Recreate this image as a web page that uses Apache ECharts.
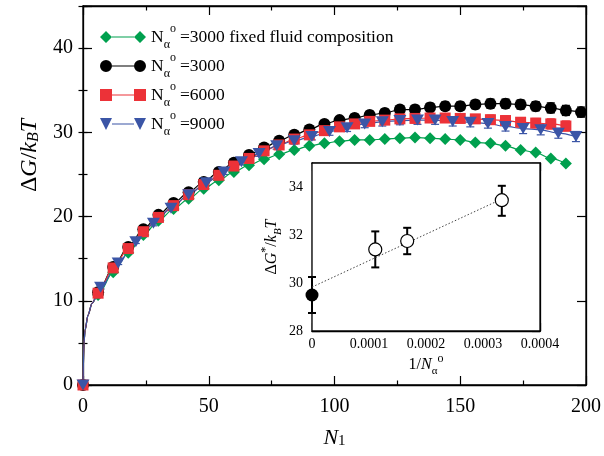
<!DOCTYPE html>
<html><head><meta charset="utf-8">
<script src="https://cdn.jsdelivr.net/npm/echarts@6/dist/echarts.min.js"></script>
<style>html,body{margin:0;padding:0;background:#fff}#c{width:604px;height:456px}</style>
</head><body><div id="c"></div>
<script>
// ---- main plot data ----
const xGreen = [0,6,12,18,24,30,36,42,48,54,60,66,72,78,84,90,96,102,108,114,120,126,132,138,144,150,156,162,168,174,180,186,192];
const yGreen = [0,10.7,13.4,15.7,17.8,19.5,20.9,22.1,23.3,24.3,25.3,26.1,26.8,27.4,27.9,28.4,28.7,28.95,29.1,29.1,29.2,29.3,29.4,29.3,29.2,29.1,28.8,28.7,28.4,27.9,27.6,26.9,26.3];
const xBlack = [0,6,12,18,24,30,36,42,48,54,60,66,72,78,84,90,96,102,108,114,120,126,132,138,144,150,156,162,168,174,180,186,192,198];
const yBlack = [0,11.0,14.0,16.4,18.5,20.2,21.6,22.9,24.1,25.3,26.4,27.3,28.2,29.0,29.7,30.35,31.0,31.45,31.7,32.05,32.3,32.7,32.7,32.95,33.1,33.1,33.3,33.4,33.4,33.3,33.1,32.9,32.6,32.4];
const errBlack = [0,0.2,0.2,0.2,0.2,0.3,0.3,0.3,0.3,0.3,0.3,0.3,0.35,0.35,0.4,0.4,0.4,0.4,0.45,0.45,0.45,0.45,0.5,0.5,0.5,0.5,0.5,0.55,0.55,0.55,0.55,0.6,0.6,0.6];
const xRed = [0,6,12,18,24,30,36,42,48,54,60,66,72,78,84,90,96,102,108,114,120,126,132,138,144,150,156,162,168,174,180,186,192];
const yRed = [0,10.9,13.9,16.2,18.2,19.9,21.3,22.6,23.8,24.9,26.0,26.9,27.8,28.5,29.2,29.7,30.2,30.65,31.0,31.3,31.45,31.6,31.65,31.7,31.7,31.65,31.6,31.5,31.4,31.2,31.1,31.0,30.75];
const errRed = [0,0.2,0.2,0.2,0.2,0.3,0.3,0.3,0.3,0.3,0.3,0.3,0.35,0.35,0.4,0.4,0.4,0.4,0.45,0.45,0.45,0.45,0.5,0.5,0.5,0.5,0.5,0.55,0.55,0.55,0.55,0.6,0.6];
const xBlue = [0,7,14,21,28,35,42,49,56,63,70,77,84,91,98,105,112,119,126,133,140,147,154,161,168,175,182,189,196];
const yBlue = [0,11.6,14.5,17.0,19.2,21.0,22.6,24.0,25.3,26.5,27.5,28.4,29.0,29.5,30.1,30.55,31.0,31.25,31.4,31.45,31.45,31.3,31.2,31.05,30.7,30.45,30.3,29.9,29.5];
const errBlue = [0,0.2,0.2,0.2,0.3,0.3,0.3,0.3,0.3,0.35,0.35,0.4,0.4,0.4,0.45,0.45,0.45,0.5,0.5,0.5,0.5,0.55,0.55,0.55,0.55,0.6,0.6,0.6,0.6];
// steep rise of the fitted curves near N1 = 0
const startX = [0.4, 0.8, 2, 3.6];
const startY = [5, 6.5, 8.3, 9.7];
const legendLabels = ['3000 fixed fluid composition', '3000', '6000', '9000'];
const xTicks = [0, 50, 100, 150, 200];
const yTicks = [0, 10, 20, 30, 40];

// ---- inset data ----
const insetX = [0.000111, 0.000167, 0.000333];
const insetY = [31.4, 31.75, 33.45];
const insetLo = [30.65, 31.2, 32.8];
const insetHi = [32.15, 32.3, 34.05];
const fixedX = [0];
const fixedY = [29.5];
const fixedLo = [28.75];
const fixedHi = [30.25];
const fitX = [0, 0.000333];
const fitY = [29.83, 33.5];

const FONT = 'Liberation Serif';
const C_GREEN = '#00a04e', C_BLACK = '#000000', C_RED = '#ec3238', C_BLUE = '#3b55a6';

function lineData(xs, ys) {
  const d = [{ value: [xs[0], ys[0]] }];
  startX.forEach((x, i) => d.push({ value: [x, startY[i]], symbol: 'none' }));
  for (let i = 1; i < xs.length; i++) d.push({ value: [xs[i], ys[i]] });
  return d;
}
function mainSeries(name, xs, ys, color, symbol, size, rotate) {
  return {
    name, type: 'line', xAxisIndex: 0, yAxisIndex: 0,
    data: lineData(xs, ys), smooth: 0.3, smoothMonotone: 'x',
    symbol, symbolSize: size, symbolRotate: rotate || 0, showAllSymbol: true,
    lineStyle: { color, width: 1.2 }, itemStyle: { color, borderWidth: 0 },
    clip: false, animation: false, emphasis: { disabled: true }
  };
}
function errSeries(xs, ysLo, ysHi, color, xi, yi, w, lw) {
  return {
    type: 'custom', xAxisIndex: xi, yAxisIndex: yi, silent: true, animation: false, clip: false,
    data: xs.map((x, i) => [x, ysLo[i], ysHi[i]]),
    encode: { x: 0, y: [1, 2] },
    renderItem: (params, api) => {
      const lo = api.coord([api.value(0), api.value(1)]);
      const hi = api.coord([api.value(0), api.value(2)]);
      const st = { stroke: color, lineWidth: lw };
      return { type: 'group', children: [
        { type: 'line', shape: { x1: lo[0], y1: lo[1], x2: hi[0], y2: hi[1] }, style: st },
        { type: 'line', shape: { x1: lo[0] - w, y1: lo[1], x2: lo[0] + w, y2: lo[1] }, style: st },
        { type: 'line', shape: { x1: hi[0] - w, y1: hi[1], x2: hi[0] + w, y2: hi[1] }, style: st }
      ]};
    }
  };
}
const loOf = (ys, es) => ys.map((y, i) => y - es[i]);
const hiOf = (ys, es) => ys.map((y, i) => y + es[i]);

const tickLabel = (fs) => ({ fontFamily: FONT, fontSize: fs, color: '#000' });
function axisBase(extra) {
  return Object.assign({
    axisLine: { show: true, onZero: false, lineStyle: { color: '#000', width: 1.3 } },
    axisTick: { show: true, inside: true, length: 9, lineStyle: { color: '#000', width: 1.2 } },
    splitLine: { show: false }, axisLabel: { show: false }
  }, extra);
}

const richBase = {
  d: { fontFamily: FONT, fontSize: 24 },
  i: { fontFamily: FONT, fontSize: 24, fontStyle: 'italic' },
  n: { fontFamily: FONT, fontSize: 24 },
  s: { fontFamily: FONT, fontSize: 16, fontStyle: 'italic', verticalAlign: 'bottom', lineHeight: 16 },
  s1: { fontFamily: FONT, fontSize: 15, verticalAlign: 'bottom', lineHeight: 15 }
};
const richX = {
  i: { fontFamily: FONT, fontSize: 22, fontStyle: 'italic' },
  s1: { fontFamily: FONT, fontSize: 15, verticalAlign: 'bottom', lineHeight: 15 }
};
const richInset = {
  d: { fontFamily: FONT, fontSize: 16, lineHeight: 24 },
  i: { fontFamily: FONT, fontSize: 16, fontStyle: 'italic', lineHeight: 24 },
  n: { fontFamily: FONT, fontSize: 16, lineHeight: 24 },
  s: { fontFamily: FONT, fontSize: 11, fontStyle: 'italic', verticalAlign: 'bottom', lineHeight: 11 },
  su: { fontFamily: FONT, fontSize: 11, verticalAlign: 'bottom', lineHeight: 11 },
  sp: { fontFamily: FONT, fontSize: 12, verticalAlign: 'top', lineHeight: 12 }
};

const option = {
  animation: false,
  backgroundColor: '#fff',
  grid: [
    { left: 83, top: 6, right: 15, bottom: 71, show: true, borderColor: '#000', borderWidth: 1.3, backgroundColor: 'transparent' },
    { left: 312, top: 163, width: 228, height: 168, show: true, borderColor: '#000', borderWidth: 1.3, backgroundColor: '#fff', z: 3 }
  ],
  legend: {
    left: 100, top: 23, orient: 'vertical', padding: 0, itemGap: 1,
    itemWidth: 46, itemHeight: 12, selectedMode: false,
    itemStyle: { borderWidth: 0 },
    data: [
      { name: legendLabels[0], icon: 'path://M0,6L6,0L12,6L6,12Z M34,6L40,0L46,6L40,12Z M12,5.4H34V6.6H12Z' },
      { name: legendLabels[1], icon: 'path://M0,6A6,6 0 1 1 12,6A6,6 0 1 1 0,6Z M34,6A6,6 0 1 1 46,6A6,6 0 1 1 34,6Z M12,5.4H34V6.6H12Z' },
      { name: legendLabels[2], icon: 'path://M0,0H12V12H0Z M34,0H46V12H34Z M12,5.4H34V6.6H12Z' },
      { name: legendLabels[3], icon: 'path://M0,0H12L6,12Z M34,0H46L40,12Z M12,5.4H34V6.6H12Z' }
    ],
    formatter: (name) => '{n|N}{a|α}{o|o}{t|=' + name + '}',
    textStyle: {
      fontFamily: FONT, fontSize: 17, color: '#000',
      rich: {
        n: { fontFamily: FONT, fontSize: 17.5, lineHeight: 28 },
        a: { fontFamily: FONT, fontSize: 12, verticalAlign: 'bottom', lineHeight: 12 },
        o: { fontFamily: FONT, fontSize: 12, verticalAlign: 'top', lineHeight: 12 },
        t: { fontFamily: FONT, fontSize: 17.5, lineHeight: 28, padding: [0, 0, 0, 4] }
      }
    }
  },
  xAxis: [
    axisBase({ gridIndex: 0, type: 'value', position: 'bottom', min: xTicks[0], max: xTicks[xTicks.length - 1], interval: 50,
      minorTick: { show: true, splitNumber: 2, length: 4.5, lineStyle: { color: '#000', width: 1.2 } },
      axisLabel: Object.assign({ show: true, margin: 12 }, tickLabel(20)),
      name: '{i|N}{s1|1}', nameLocation: 'middle', nameGap: 42,
      nameTextStyle: { fontFamily: FONT, fontSize: 22, rich: richX } }),
    axisBase({ gridIndex: 0, type: 'value', position: 'top', min: 0, max: 200, interval: 50,
      minorTick: { show: true, splitNumber: 2, length: 4.5, lineStyle: { color: '#000', width: 1.2 } } }),
    axisBase({ gridIndex: 1, type: 'value', position: 'bottom', min: 0, max: 0.0004, interval: 0.0001,
      axisTick: { show: true, inside: true, length: 8, lineStyle: { color: '#000', width: 1.2 } },
      axisLabel: Object.assign({ show: true, margin: 6, formatter: (v) => v === 0 ? '0' : v.toFixed(4) }, tickLabel(14)),
      name: '{n|1/}{i|N}{su|α}{sp|o}', nameLocation: 'middle', nameGap: 22,
      nameTextStyle: { fontFamily: FONT, fontSize: 16, rich: richInset } }),
    axisBase({ gridIndex: 1, type: 'value', position: 'top', min: 0, max: 0.0004, interval: 0.0001,
      axisTick: { show: true, inside: true, length: 8, lineStyle: { color: '#000', width: 1.2 } } })
  ],
  yAxis: [
    axisBase({ gridIndex: 0, type: 'value', position: 'left', min: yTicks[0], max: 45, interval: 10,
      axisLabel: Object.assign({ show: true, margin: 10, formatter: (v) => yTicks.indexOf(v) >= 0 ? String(v) : '' }, tickLabel(20)),
      name: '{d|Δ}{i|G}{n|/}{i|k}{s|B}{i|T}', nameLocation: 'middle', nameGap: 36,
      nameTextStyle: { fontFamily: FONT, fontSize: 24, rich: richBase, padding: [0, 0, 0, 80] } }),
    axisBase({ gridIndex: 0, type: 'value', position: 'left', min: 0, max: 45, interval: 5, axisLine: { show: false },
      axisTick: { show: true, inside: true, length: 4.5, lineStyle: { color: '#000', width: 1.2 } } }),
    axisBase({ gridIndex: 0, type: 'value', position: 'right', min: 0, max: 45, interval: 10 }),
    axisBase({ gridIndex: 0, type: 'value', position: 'right', min: 0, max: 45, interval: 5, axisLine: { show: false },
      axisTick: { show: true, inside: true, length: 4.5, lineStyle: { color: '#000', width: 1.2 } } }),
    axisBase({ gridIndex: 1, type: 'value', position: 'left', min: 28, max: 35, interval: 2,
      axisTick: { show: true, inside: true, length: 8, lineStyle: { color: '#000', width: 1.2 } },
      axisLabel: Object.assign({ show: true, margin: 9, formatter: (v) => v === 35 ? '' : String(v) }, tickLabel(14)),
      name: '{d|Δ}{i|G}{sp|*}{n|/}{i|k}{s|B}{i|T}', nameLocation: 'middle', nameGap: 28,
      nameTextStyle: { fontFamily: FONT, fontSize: 16, rich: richInset } }),
    axisBase({ gridIndex: 1, type: 'value', position: 'right', min: 28, max: 35, interval: 2,
      axisTick: { show: true, inside: true, length: 8, lineStyle: { color: '#000', width: 1.2 } } })
  ],
  series: [
    mainSeries(legendLabels[0], xGreen, yGreen, C_GREEN, 'diamond', [12, 12]),
    errSeries(xBlack, loOf(yBlack, errBlack), hiOf(yBlack, errBlack), C_BLACK, 0, 0, 4, 1.2),
    mainSeries(legendLabels[1], xBlack, yBlack, C_BLACK, 'circle', 12),
    errSeries(xRed, loOf(yRed, errRed), hiOf(yRed, errRed), C_RED, 0, 0, 4, 1.2),
    mainSeries(legendLabels[2], xRed, yRed, C_RED, 'rect', 11),
    errSeries(xBlue, loOf(yBlue, errBlue), hiOf(yBlue, errBlue), C_BLUE, 0, 0, 4, 1.2),
    mainSeries(legendLabels[3], xBlue, yBlue, C_BLUE, 'triangle', [13, 11], 180),
    { type: 'line', xAxisIndex: 2, yAxisIndex: 4, data: fitX.map((x, i) => [x, fitY[i]]), symbol: 'none',
      lineStyle: { color: '#444', width: 1, type: [1.5, 2] }, z: 4, silent: true },
    errSeries(insetX, insetLo, insetHi, '#000', 2, 4, 4, 2),
    errSeries(fixedX, fixedLo, fixedHi, '#000', 2, 4, 4, 2),
    { type: 'scatter', xAxisIndex: 2, yAxisIndex: 4, data: insetX.map((x, i) => [x, insetY[i]]),
      symbol: 'circle', symbolSize: 13, itemStyle: { color: '#fff', borderColor: '#000', borderWidth: 1.2, opacity: 1 }, z: 5, silent: true, clip: false },
    { type: 'scatter', xAxisIndex: 2, yAxisIndex: 4, data: fixedX.map((x, i) => [x, fixedY[i]]),
      symbol: 'circle', symbolSize: 13, itemStyle: { color: '#000', opacity: 1 }, z: 5, silent: true, clip: false }
  ]
};
option.series.slice(7).forEach(s => { if (s.z === undefined) s.z = 4; });
const chart = echarts.init(document.getElementById('c'), null, { renderer: 'canvas' });
chart.setOption(option);
</script>
</body></html>
